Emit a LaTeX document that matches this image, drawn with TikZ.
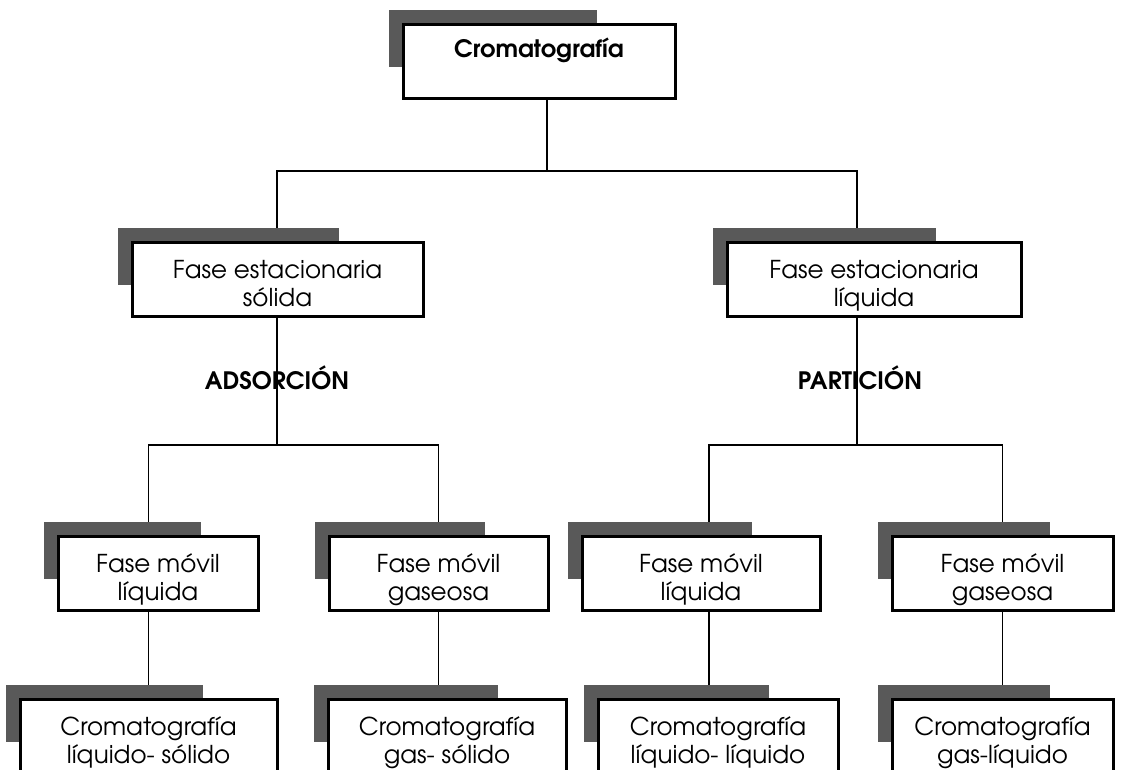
\documentclass[tikz,border=0pt]{standalone}
\usepackage{fontspec}
\setmainfont{texgyreadventor}[Extension=.otf,UprightFont=*-regular,BoldFont=*-bold]
\usetikzlibrary{calc}
\pgfdeclarelayer{background}
\pgfsetlayers{background,main}
\begin{document}
\begin{tikzpicture}[x=0.5pt,y=-0.5pt,
    frame/.style={draw, line width=1.5pt, fill=white, align=center, inner sep=0pt, minimum height=37pt},
    box/.style={frame, font=\fontsize{12.3}{14}\selectfont, text height=26.7pt, text depth=0pt},
    title/.style={frame, font=\bfseries\fontsize{12}{14}\selectfont, text height=9pt, text depth=12.5pt},
    tag/.style={font=\bfseries\fontsize{12}{14}\selectfont, anchor=base},
    link/.style={line width=0.6pt},
    shade/.style={fill=black!65}]
        \useasboundingbox (0,0) rectangle (1125,770);

        \node[title, minimum width=136pt] (top) at (539,61.5) {Cromatografía};
        \node[box, minimum width=145.5pt] (sL) at (277.5,280) {Fase estacionaria\\sólida};
        \node[box, minimum width=147pt] (sR) at (874,280) {Fase estacionaria\\líquida};
        \node[box, minimum width=100pt] (mL1) at (158,573.5) {Fase móvil\\líquida};
        \node[box, minimum width=109.5pt] (mL2) at (438.5,573.5) {Fase móvil\\gaseosa};
        \node[box, minimum width=119pt] (mR1) at (701,573.5) {Fase móvil\\líquida};
        \node[box, minimum width=110.5pt] (mR2) at (1002.5,573.5) {Fase móvil\\gaseosa};
        \node[box, minimum width=128.5pt] (cL1) at (148.5,736.5) {Cromatografía\\líquido- sólido};
        \node[box, minimum width=119pt] (cL2) at (447,736.5) {Cromatografía\\gas- sólido};
        \node[box, minimum width=120pt] (cR1) at (718,736.5) {Cromatografía\\líquido- líquido};
        \node[box, minimum width=110.5pt] (cR2) at (1002.5,736.5) {Cromatografía\\gas-líquido};

        \node[tag] (ads) at (277,390) {ADSORCIÓN};
        \node[tag] (par) at (860,390) {PARTICIÓN};

        \coordinate (j0) at (547,171);
        \coordinate (j1) at (277,445);
        \coordinate (j2) at (857,445);
        \coordinate (j3) at (709,445);

        \begin{pgfonlayer}{background}
        \draw[link] (top.south -| j0) -- (j0);
        \draw[link] (sL.north -| j1) |- (j0) -| (sR.north -| j2);
        \draw[link] (sL.south -| j1) -- (j1);
        \draw[link] (sR.south -| j2) -- (j2);
        \draw[link] (mL1.north -| cL1) |- (j1) -| (mL2.north);
        \draw[link] (mR1.north -| j3) |- (j2) -| (mR2.north);
        \draw[link] (mL1.south -| cL1) -- (cL1.north);
        \draw[link] (mL2.south) -- (mL2.south |- cL2.north);
        \draw[link] (mR1.south -| j3) -- (cR1.north -| j3);
        \draw[link] (mR2.south) -- (cR2.north);
        \foreach \n in {top,sL,sR,mL1,mL2,mR1,mR2,cL1,cL2,cR1,cR2}
            \fill[shade] ($(\n.north west)+(-13,-13)$) rectangle ($(\n.north west)!0.71!(\n.north east)+(0,44)$);
        \end{pgfonlayer}
    \end{tikzpicture}
\end{document}
